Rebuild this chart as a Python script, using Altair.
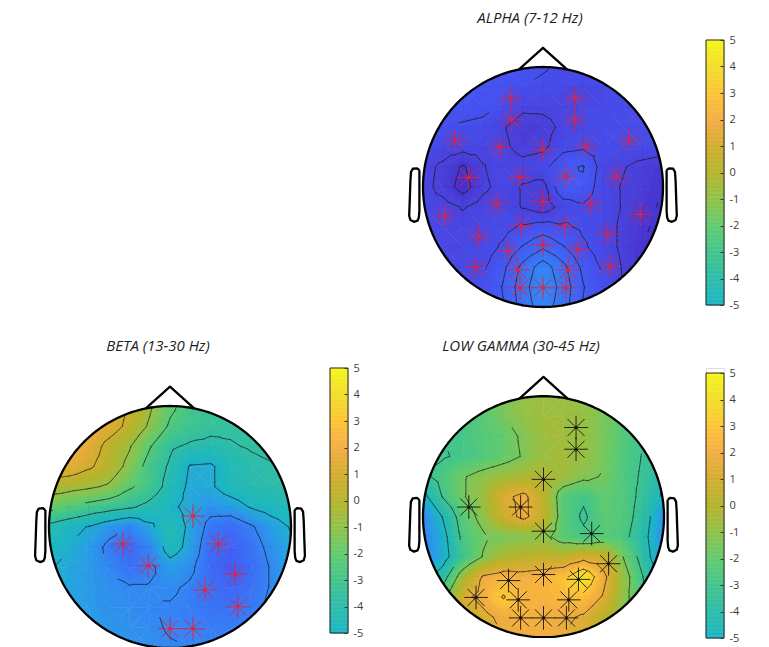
import numpy as np
import pandas as pd
import altair as alt

alt.data_transformers.disable_max_rows()

# ---------------- data ----------------
GRID_U = [-1.0, -0.8333, -0.6667, -0.5, -0.3333, -0.1667, 0.0, 0.1667, 0.3333, 0.5, 0.6667, 0.8333, 1.0]
GRID_V = [1.0, 0.8333, 0.6667, 0.5, 0.3333, 0.1667, 0.0, -0.1667, -0.3333, -0.5, -0.6667, -0.8333, -1.0]

ALPHA_GRID = [
    [-8.8, -8.8, -8.8, -8.8, -8.8, -8.8, -9.0, -9.3, -9.3, -9.3, -9.3, -9.3, -9.3],
    [-8.7, -8.7, -8.7, -8.8, -8.9, -9.1, -9.3, -9.4, -9.4, -9.4, -9.3, -9.3, -9.3],
    [-8.7, -8.7, -8.8, -8.9, -9.1, -9.6, -9.6, -9.5, -9.4, -9.4, -9.3, -9.3, -9.3],
    [-9.0, -9.1, -9.2, -9.3, -9.7, -10.1, -10.0, -9.6, -9.4, -9.3, -9.3, -9.3, -9.3],
    [-9.3, -9.4, -9.5, -9.5, -9.6, -10.0, -9.9, -9.3, -9.2, -9.3, -9.3, -9.3, -9.3],
    [-9.5, -9.9, -10.5, -9.8, -9.4, -9.5, -9.3, -8.6, -8.4, -9.4, -9.7, -10.0, -10.3],
    [-9.5, -10.0, -10.7, -9.9, -9.5, -9.8, -10.0, -8.5, -8.6, -9.5, -9.8, -10.1, -10.4],
    [-9.5, -9.5, -9.8, -9.5, -9.4, -9.8, -10.1, -9.5, -9.2, -9.4, -9.8, -10.2, -10.5],
    [-9.4, -9.5, -9.5, -9.4, -9.3, -9.0, -8.8, -9.0, -9.2, -9.4, -9.9, -10.3, -10.6],
    [-9.4, -9.4, -9.4, -9.4, -9.0, -8.4, -7.9, -8.4, -9.0, -9.4, -9.9, -10.4, -10.7],
    [-9.4, -9.4, -9.4, -9.2, -8.6, -7.6, -6.8, -7.6, -8.6, -9.2, -9.8, -10.5, -10.7],
    [-9.4, -9.4, -9.4, -9.1, -8.4, -7.4, -6.6, -7.4, -8.4, -9.1, -9.8, -10.4, -10.6],
    [-9.4, -9.4, -9.4, -9.1, -8.5, -7.5, -6.8, -7.5, -8.5, -9.1, -9.8, -10.3, -10.5],
]
BETA_GRID = [
    [2.2, 2.2, 2.1, 1.6, 0.6, -0.6, -2.0, -2.9, -3.3, -3.4, -3.3, -3.2, -3.2],
    [2.2, 2.2, 1.9, 1.4, 0.3, -1.0, -2.5, -3.1, -3.5, -3.6, -3.4, -3.3, -3.3],
    [2.1, 2.2, 1.5, 0.2, -0.7, -2.2, -3.6, -4.0, -4.1, -3.9, -3.7, -3.5, -3.4],
    [1.8, 1.6, 0.9, 0.0, -1.2, -2.9, -4.0, -5.4, -5.5, -4.6, -4.1, -3.9, -3.8],
    [0.0, -0.3, -0.6, -1.0, -2.1, -3.0, -4.3, -5.6, -5.5, -4.6, -4.2, -4.0, -3.9],
    [-1.8, -2.3, -2.8, -3.2, -3.6, -4.2, -5.0, -5.7, -6.3, -6.0, -5.2, -4.7, -4.4],
    [-4.2, -4.8, -5.4, -6.2, -6.8, -5.6, -4.3, -5.6, -7.3, -7.8, -7.0, -6.0, -5.2],
    [-4.8, -5.3, -6.0, -7.2, -7.9, -6.8, -4.5, -5.8, -7.8, -8.2, -7.5, -6.4, -5.5],
    [-5.2, -5.6, -6.1, -6.8, -7.6, -7.1, -6.0, -6.5, -7.8, -8.4, -7.8, -6.7, -5.7],
    [-5.4, -5.7, -6.1, -6.4, -6.7, -6.7, -6.6, -7.0, -7.6, -8.0, -7.6, -6.7, -5.8],
    [-5.5, -5.8, -6.1, -6.4, -6.6, -6.8, -6.9, -7.1, -7.4, -7.6, -7.2, -6.5, -5.8],
    [-5.6, -5.8, -6.0, -6.2, -6.4, -6.6, -6.9, -7.0, -7.1, -7.1, -6.8, -6.3, -5.8],
    [-5.6, -5.8, -5.9, -6.1, -6.3, -6.5, -6.7, -6.8, -6.9, -6.8, -6.6, -6.2, -5.8],
]
GAMMA_GRID = [
    [-3.0, -2.9, -2.7, -2.2, -1.4, -0.9, -0.7, -0.7, -0.9, -1.5, -2.2, -2.8, -3.2],
    [-3.1, -3.0, -2.8, -2.3, -1.5, -0.9, -0.6, -0.6, -0.8, -1.5, -2.3, -3.0, -3.4],
    [-3.2, -3.1, -2.8, -2.4, -2.0, -1.3, -0.6, -0.6, -0.8, -1.5, -2.4, -3.1, -3.6],
    [-3.3, -3.2, -2.9, -2.5, -2.0, -1.4, -0.7, -0.5, -0.8, -1.5, -2.5, -3.2, -3.9],
    [-3.4, -2.6, -1.6, -1.0, -0.6, -0.3, -0.1, -0.6, -1.2, -1.6, -2.6, -3.3, -4.4],
    [-5.2, -3.0, -1.6, -0.7, 1.2, 2.0, 0.2, -2.4, -2.9, -2.0, -2.5, -3.5, -5.0],
    [-6.8, -4.6, -2.3, -1.0, 0.8, 2.0, 0.5, -2.3, -3.3, -2.2, -2.4, -3.9, -6.4],
    [-7.0, -5.2, -2.7, -1.7, -1.5, -1.3, -1.0, -2.3, -2.8, -2.3, -2.7, -4.2, -6.6],
    [-6.8, -5.4, -3.1, -1.4, -0.2, 0.2, 0.4, 0.3, 1.0, 0.6, -1.6, -3.9, -6.4],
    [-5.6, -3.8, -0.5, 1.8, 2.3, 2.1, 2.3, 2.8, 4.6, 2.0, -0.8, -3.2, -5.4],
    [-4.3, -2.1, 1.2, 2.1, 3.3, 2.3, 2.2, 2.6, 2.8, 1.4, -1.0, -2.9, -4.7],
    [-3.1, -1.5, 0.2, 1.2, 2.0, 2.2, 2.1, 1.9, 1.4, 0.2, -1.2, -2.6, -4.0],
    [-2.5, -1.2, -0.2, 0.8, 1.6, 1.9, 1.9, 1.6, 1.0, 0.0, -1.2, -2.4, -3.6],
]

ALPHA_CONTOURS = [-10.4, -9.75, -9.1, -8.45, -7.8, -7.15]
BETA_CONTOURS = [0.7, -0.8, -2.3, -3.8, -5.3, -6.8]
GAMMA_CONTOURS = [-4.7, -3.1, -1.5, 1.6, 3.2]

ELEC_U = [-0.27, 0.27, -0.26, 0.27, -0.73, -0.36, 0.0, 0.36, 0.72, -0.62, -0.19, 0.19, 0.61,
          -0.39, 0.0, 0.40, -0.82, 0.81, -0.18, 0.18, -0.53, 0.54, 0.0, -0.29, 0.29,
          -0.56, -0.21, 0.21, 0.56, -0.19, 0.0, 0.19]
ELEC_V = [0.74, 0.74, 0.56, 0.56, 0.39, 0.33, 0.31, 0.34, 0.39, 0.08, 0.08, 0.09, 0.09,
          -0.14, -0.12, -0.14, -0.24, -0.23, -0.32, -0.32, -0.41, -0.39, -0.48, -0.53, -0.52,
          -0.67, -0.69, -0.69, -0.66, -0.84, -0.84, -0.84]
ALPHA_SITES = list(range(1, 33))
BETA_SITES = [12, 14, 16, 19, 22, 25, 29, 31, 32]
GAMMA_SITES = [2, 4, 7, 10, 11, 15, 16, 22, 23, 24, 25, 26, 27, 28, 30, 31, 32]

TITLES = ["ALPHA (7-12 Hz)", "BETA (13-30 Hz)", "LOW GAMMA (30-45 Hz)"]
CBAR_TICKS = [-5, -4, -3, -2, -1, 0, 1, 2, 3, 4, 5]

COLOR_STOPS = [-11, -10, -9, -8, -7, -6, -5, -4, -3, -2, -1, 0, 1, 2, 3, 4, 5]
COLOR_HEX = ['#4528c0', '#4a3ed8', '#4650ee', '#3f66f5', '#3680f5', '#2a9de6', '#1cb6c4',
             '#2cbcaa', '#42c58c', '#62cb6e', '#90c24a', '#b5b42c', '#d4ad30', '#f3ad42',
             '#fdc536', '#f3dd2a', '#f5f51c']

# head outline pieces (head radius = 1)
NOSE_U = [-0.2, 0.0, 0.2]
NOSE_V = [0.98, 1.16, 0.98]
EAR_U = [1.03, 1.05, 1.085, 1.100, 1.105, 1.110, 1.115, 1.105, 1.075, 1.045, 1.035, 1.030, 1.030]
EAR_V = [0.140, 0.156, 0.152, 0.125, 0.050, -0.100, -0.240, -0.275, -0.290, -0.280, -0.255, -0.200, 0.140]

# ---------------- geometry helpers ----------------
STEP = 0.2
BASE = -12.0
CSCALE = alt.Scale(domain=COLOR_STOPS, range=COLOR_HEX, interpolate='rgb', clamp=True)
STAR = "M-1,0L1,0M0,-1L0,1M-0.72,-0.72L0.72,0.72M-0.72,0.72L0.72,-0.72"


def triangles(grid):
    tris = []
    n = len(GRID_U) - 1
    for i in range(n):
        for j in range(n):
            tl = (GRID_U[j], GRID_V[i], grid[i][j])
            tr = (GRID_U[j + 1], GRID_V[i], grid[i][j + 1])
            bl = (GRID_U[j], GRID_V[i + 1], grid[i + 1][j])
            br = (GRID_U[j + 1], GRID_V[i + 1], grid[i + 1][j + 1])
            c = ((tl[0] + tr[0]) / 2, (tl[1] + bl[1]) / 2, (tl[2] + tr[2] + bl[2] + br[2]) / 4)
            tris += [(tl, tr, c), (tr, br, c), (br, bl, c), (bl, tl, c)]
    return tris


def clip_ge(poly, t):
    out = []
    n = len(poly)
    for k in range(n):
        p, q = poly[k], poly[(k + 1) % n]
        pin, qin = p[2] >= t, q[2] >= t
        if pin:
            out.append(p)
        if pin != qin:
            s = (t - p[2]) / (q[2] - p[2])
            out.append((p[0] + s * (q[0] - p[0]), p[1] + s * (q[1] - p[1]), t))
    return out


def ring(pts):
    r = [[round(p[0], 3), round(p[1], 3)] for p in pts]
    r.append(r[0])
    return r


def band_features(grid):
    feats = []
    for tri in triangles(grid):
        vals = [p[2] for p in tri]
        k0 = int(np.floor((min(vals) - BASE) / STEP))
        k1 = int(np.floor((max(vals) - BASE) / STEP))
        feats.append({"type": "Feature", "properties": {"lev": BASE + (k0 + 0.5) * STEP},
                      "geometry": {"type": "Polygon", "coordinates": [ring(tri)]}})
        for k in range(k0 + 1, k1 + 1):
            t = BASE + k * STEP
            poly = clip_ge(list(tri), t)
            if len(poly) >= 3:
                feats.append({"type": "Feature", "properties": {"lev": t + STEP / 2},
                              "geometry": {"type": "Polygon", "coordinates": [ring(poly)]}})
    return feats


def contour_features(grid, levels):
    segs = []
    for tri in triangles(grid):
        for c in levels:
            pts = []
            for a in range(3):
                p, q = tri[a], tri[(a + 1) % 3]
                if (p[2] - c) * (q[2] - c) < 0:
                    s = (c - p[2]) / (q[2] - p[2])
                    pts.append([round(p[0] + s * (q[0] - p[0]), 3), round(p[1] + s * (q[1] - p[1]), 3)])
            if len(pts) == 2:
                segs.append(pts)
    return [{"type": "Feature", "properties": {},
             "geometry": {"type": "MultiLineString", "coordinates": segs}}]


ANG = np.linspace(0, 2 * np.pi, 241)
CIRCLE = [[round(float(np.cos(a)), 4), round(float(np.sin(a)), 4)] for a in ANG]
MASK = [{"type": "Feature", "properties": {}, "geometry": {"type": "Polygon", "coordinates": [
    [[-1.06, -1.06], [1.06, -1.06], [1.06, 1.06], [-1.06, 1.06], [-1.06, -1.06]],
    CIRCLE[::-1]]}}]
OUTLINE = [
    {"type": "Feature", "properties": {}, "geometry": {"type": "LineString", "coordinates": CIRCLE}},
    {"type": "Feature", "properties": {}, "geometry": {"type": "LineString",
                                                        "coordinates": [[u, v] for u, v in zip(NOSE_U, NOSE_V)]}},
    {"type": "Feature", "properties": {}, "geometry": {"type": "LineString",
                                                        "coordinates": [[u, v] for u, v in zip(EAR_U, EAR_V)]}},
    {"type": "Feature", "properties": {}, "geometry": {"type": "LineString",
                                                        "coordinates": [[-u, v] for u, v in zip(EAR_U, EAR_V)]}},
]


def head_map(grid, levels, sites, mcolor, title, dx, width, cx, cy, radius, height, prec):
    proj = dict(type='identity', scale=radius, translate=[cx, cy], reflectY=True, precision=prec)
    bands = alt.Chart(alt.Data(values=band_features(grid))).mark_geoshape(strokeWidth=0.5).encode(
        color=alt.Color('properties.lev:Q', scale=CSCALE, legend=None),
        stroke=alt.Stroke('properties.lev:Q', scale=CSCALE, legend=None),
    ).project(**proj)
    lines = alt.Chart(alt.Data(values=contour_features(grid, levels))).mark_geoshape(
        filled=False, stroke='#1a1a1a', strokeWidth=0.9, strokeOpacity=0.75, strokeCap='round'
    ).project(**proj)
    mask = alt.Chart(alt.Data(values=MASK)).mark_geoshape(
        fill='white', stroke='white', strokeWidth=0.5).project(**proj)
    outline = alt.Chart(alt.Data(values=OUTLINE)).mark_geoshape(
        filled=False, stroke='black', strokeWidth=2.3, strokeJoin='round').project(**proj)
    edf = pd.DataFrame({'u': [ELEC_U[s - 1] for s in sites], 'v': [ELEC_V[s - 1] for s in sites]})
    stars = alt.Chart(edf).mark_point(shape=STAR, filled=False, size=560, strokeWidth=1.0,
                                      color=mcolor, opacity=0.9).encode(
        longitude='u:Q', latitude='v:Q').project(**proj)
    dots = alt.Chart(edf).mark_point(shape='circle', filled=True, size=10, color=mcolor, opacity=1).encode(
        longitude='u:Q', latitude='v:Q').project(**proj)
    return alt.layer(bands, lines, mask, outline, stars, dots).properties(
        width=width, height=height,
        title=alt.Title(title, font='Open Sans', fontSize=15, fontStyle='italic', fontWeight='normal',
                        color='#1e1e1e', anchor='middle', dx=dx, offset=14))


CB_LO = np.round(np.arange(-5, 5, 0.05), 3)
CB_AXIS = alt.Axis(
    orient='right', values=CBAR_TICKS, tickSize=3, offset=-4, domain=False, grid=False,
    labelFont='Open Sans', labelFontSize=11, labelColor='#404040', tickColor='#333333',
    tickWidth=1, labelPadding=6, title=None, labelFlush=False, labelOverlap=False, zindex=2,
    labelExpr='toString(datum.value)')


def colorbar(top, height):
    df = pd.DataFrame({'lo': CB_LO, 'hi': np.round(CB_LO + 0.05, 3), 'mid': np.round(CB_LO + 0.025, 3),
                       'x0': 0.0, 'x1': 1.0})
    ysc = alt.Scale(domain=[-5, top], nice=False, zero=False)
    xsc = alt.Scale(domain=[0, 1], nice=False, zero=False)
    fdf = pd.DataFrame({'lo': [-5.0], 'hi': [5.0], 'x0': [0.0], 'x1': [1.0]})
    bar = alt.Chart(df).mark_rect(strokeWidth=0.6).encode(
        x=alt.X('x0:Q', scale=xsc, axis=None), x2='x1:Q',
        y=alt.Y('lo:Q', scale=ysc, axis=CB_AXIS), y2='hi:Q',
        color=alt.Color('mid:Q', scale=CSCALE, legend=None),
        stroke=alt.Stroke('mid:Q', scale=CSCALE, legend=None),
    )
    frame = alt.Chart(fdf).mark_rect(filled=False, stroke='#2b2b2b', strokeWidth=1).encode(
        x=alt.X('x0:Q', scale=xsc, axis=None), x2='x1:Q',
        y=alt.Y('lo:Q', scale=ysc, axis=CB_AXIS), y2='hi:Q')
    return alt.layer(bar, frame).properties(width=18, height=height)


def spacer():
    return alt.Chart(pd.DataFrame({'a': [0]})).mark_point(opacity=0).properties(width=1, height=1)


RES = dict(x='independent', y='independent', color='independent', stroke='independent')

# grid columns: [beta map | beta bar | alpha/gamma map | alpha/gamma bar]
alpha_map = head_map(ALPHA_GRID, ALPHA_CONTOURS, ALPHA_SITES, '#e8203c', TITLES[0], 3,
                     338, 185, 147, 120, 279, 0.11)
beta_map = head_map(BETA_GRID, BETA_CONTOURS, BETA_SITES, '#e8203c', TITLES[1], -12,
                    300, 150, 159, 121, 291, 0.12)
gamma_map = head_map(GAMMA_GRID, GAMMA_CONTOURS, GAMMA_SITES, '#151515', TITLES[2], -6,
                     338, 185.5, 148.7, 120.5, 270, 0.13)

cbar_a = colorbar(5.0, 265)
cbar_b = colorbar(5.0, 265)
cbar_g = colorbar(5.19, 270)

chart = alt.concat(
    spacer(), spacer(), alpha_map, cbar_a,
    beta_map, cbar_b, gamma_map, cbar_g,
    columns=4, spacing={'row': 49, 'column': 10}, bounds='flush', align='each'
).resolve_scale(**RES).properties(
    padding={'left': 9, 'top': 3, 'right': 5, 'bottom': 0}
).configure_view(stroke=None).configure(background='white')

chart.save("out.html", embed_options={"renderer": "svg", "actions": False})
